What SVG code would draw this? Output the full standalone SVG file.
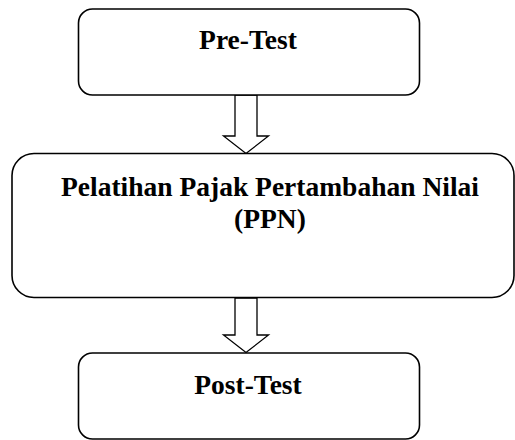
<svg xmlns="http://www.w3.org/2000/svg" width="515" height="440" viewBox="0 0 515 440">
<style>
.box{fill:#fff;stroke:#000;stroke-width:1.6}
.arr{fill:#fff;stroke:#000;stroke-width:1.3;stroke-linejoin:miter}
.t{font-family:"Liberation Serif","Times New Roman",serif;font-weight:bold;font-size:27.5px;fill:#000;text-anchor:middle}
</style>
<rect width="515" height="440" fill="#fff"/>
<g id="connectors">
<polygon class="arr" points="235,95 257,95 257,136 268.5,136 246,153.5 223.5,136 235,136"/>
<polygon class="arr" points="235,298 257,298 257,335 268.5,335 246,352.5 223.5,335 235,335"/>
</g>
<g id="pretest">
<rect class="box" x="78.5" y="9" width="341" height="86" rx="14" ry="14"/>
<text class="t" x="248" y="48.5">Pre-Test</text>
</g>
<g id="pelatihan">
<rect class="box" x="12" y="153.5" width="502" height="144" rx="22" ry="22"/>
<text class="t" x="270" y="195.5">Pelatihan Pajak Pertambahan Nilai</text>
<text class="t" x="270" y="228">(PPN)</text>
</g>
<g id="posttest">
<rect class="box" x="78.5" y="353" width="341" height="86" rx="14" ry="14"/>
<text class="t" x="248" y="394">Post-Test</text>
</g>
</svg>
